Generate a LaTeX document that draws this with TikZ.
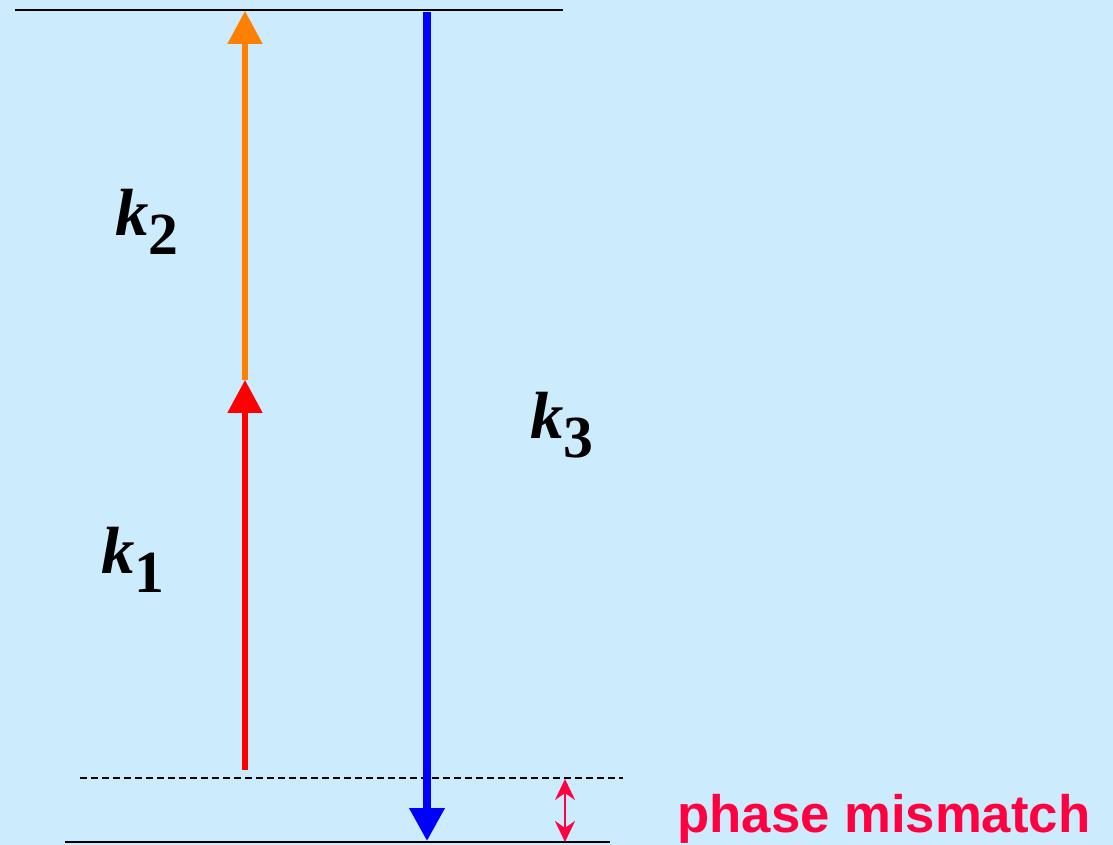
\documentclass[tikz,border=0pt]{standalone}
\usepackage{fontspec}
\setmainfont{Liberation Serif}
\newfontfamily\mismatchfont{Liberation Sans}
\usepackage{xcolor}
\usetikzlibrary{arrows.meta,positioning}

\definecolor{bgblue}{RGB}{204,235,252}
\definecolor{kred}{RGB}{255,0,0}
\definecolor{korange}{RGB}{255,128,0}
\definecolor{kblue}{RGB}{0,0,255}
\definecolor{mismatch}{RGB}{255,0,64}

% wave vector label: bold italic k with a large bold subscript
\newcommand{\kvec}[1]{{\fontsize{38}{38}\selectfont\textbf{\textit{k}}}%
  \raisebox{-11pt}{\fontsize{34}{34}\selectfont\textbf{#1}}}

\tikzset{
  level/.style={line width=1.1pt},
  virtual/.style={line width=1.1pt, dash pattern=on 0.14cm off 0.08cm},
  kbeam/.style={line width=3pt, -{Triangle[length=0.66cm, width=0.68cm]}},
  klabel/.style={anchor=base west, inner sep=0pt}
}

\begin{document}
\begin{tikzpicture}[x=0.02cm, y=-0.02cm]
        \fill[bgblue] (0,0) rectangle (1113,845);
        \useasboundingbox (0,0) rectangle (1113,845);
        % energy levels
        \coordinate (top-l) at (15,10);    \coordinate (top-r) at (563,10);
        \coordinate (virt-l) at (80,778);  \coordinate (virt-r) at (623,778);
        \coordinate (bot-l) at (65,842);   \coordinate (bot-r) at (610,842);
        \draw[level] (top-l) -- (top-r);
        \draw[virtual] (virt-l) -- (virt-r);
        \draw[level] (bot-l) -- (bot-r);
        % k1 and k2 going up, k3 coming down
        \coordinate (k1-start) at (245,770);
        \coordinate (k1-end) at (245,380);
        \coordinate (k2-end) at (245,11);
        \coordinate (k3-start) at (427,12);
        \coordinate (k3-end) at (427,841);
        \draw[kbeam, kred] (k1-start) -- (k1-end);
        \draw[kbeam, korange] (k1-end) -- (k2-end);
        \draw[kbeam, kblue, line width=4pt] (k3-start) -- (k3-end);
        \node[klabel] (k1) at (101,573) {\kvec{1}};
        \node[klabel] (k2) at (115,235) {\kvec{2}};
        \node[klabel] (k3) at (530,438) {\kvec{3}};
        % phase mismatch
        \coordinate (dk-top) at (565,779);
        \coordinate (dk-bot) at (565,842);
        \draw[mismatch, line width=1.5pt, {Stealth[length=0.42cm, width=0.4cm, inset=0.14cm]}-{Stealth[length=0.42cm, width=0.4cm, inset=0.14cm]}] (dk-top) -- (dk-bot);
        \node[anchor=base west, inner sep=0pt, text=mismatch] (dk) at (677,832)
            {\mismatchfont\bfseries\fontsize{30}{30}\selectfont phase mismatch};
    \end{tikzpicture}
\end{document}
